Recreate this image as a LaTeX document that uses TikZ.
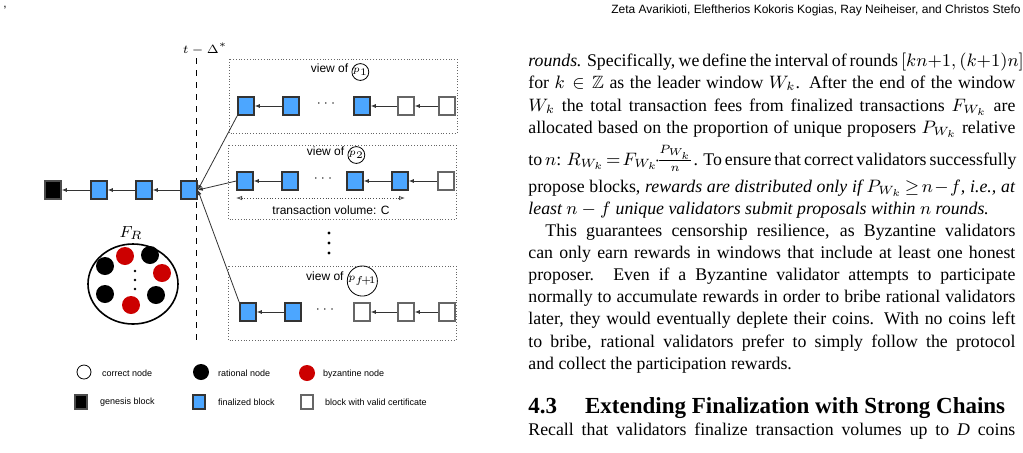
\documentclass[tikz,border=0pt]{standalone}
\usepackage{fontspec}
\setmainfont{Liberation Serif}
\newfontfamily\helv{Liberation Sans}
\usepackage{amssymb}
\usetikzlibrary{arrows.meta,positioning}
\newcommand{\pcirc}[1]{\tikz[baseline=(c.base)]\node[circle,draw,inner sep=0pt,font=\fontsize{5.5}{6}\selectfont](c){$p_{#1}$};}
\begin{document}
\begin{tikzpicture}[x=0.5pt,y=-0.5pt,
    blk/.style={rectangle, draw=black!70, minimum width=8pt, minimum height=9pt, inner sep=0pt, thick},
    fin/.style={blk, fill=blue!50!cyan!70!white, draw=black!80},
    gen/.style={blk, fill=black},
    cert/.style={blk, fill=white, draw=black!60},
    link/.style={-{Latex[length=2.5pt,width=2pt]}, black!80},
    view/.style={draw=black!60, densely dotted},
    lbl/.style={font=\helv\fontsize{6}{7}\selectfont},
    leg/.style={font=\helv\fontsize{4.5}{5}\selectfont, anchor=west},
    dot/.style={circle, minimum size=9pt, inner sep=0pt},
    pt/.style={circle, fill, minimum size=1.6pt, inner sep=0pt},
    line/.style={anchor=base west, inner sep=0pt, font=\fontsize{8.9}{11}\selectfont}
]
\useasboundingbox (0,0) rectangle (1023,452);

% header
\node[anchor=north west, inner sep=0pt, font=\helv\fontsize{6}{7}\selectfont] at (3,6) {,};
\node[anchor=north east, inner sep=0pt, font=\helv\fontsize{6}{7}\selectfont] at (1021,4) {Zeta Avarikioti, Eleftherios Kokoris Kogias, Ray Neiheiser, and Christos Stefo};

% time line
\draw[dashed] (196,58) -- (196,340);
\node[font=\fontsize{6}{7}\selectfont] (tl) at (205,49) {$t-\Delta^{*}$};

% main chain
\node[gen] (g) at (53,190) {};
\node[fin] (m1) at (99,190) {};
\node[fin] (m2) at (144,190) {};
\node[fin] (m3) at (189,190) {};
\draw[link] (m1) -- (g);
\draw[link] (m2) -- (m1);
\draw[link] (m3) -- (m2);

% view of p1
\draw[view] (229,59) rectangle (457,133);
\node[lbl] at (340,72) {view of \pcirc{1}};
\node[fin] (a1) at (246,106) {};
\node[fin] (a2) at (291,106) {};
\node[lbl] at (326,104) {$\cdots$};
\node[fin] (a3) at (362,106) {};
\node[cert] (a4) at (406,106) {};
\node[cert] (a5) at (447,106) {};
\draw[link] (a2) -- (a1);
\draw[link] (a4) -- (a3);
\draw[link] (a5) -- (a4);

% view of p2
\draw[view] (228,145) rectangle (456,219);
\node[lbl] at (336,155) {view of \pcirc{2}};
\node[fin] (b1) at (245,181) {};
\node[fin] (b2) at (290,181) {};
\node[lbl] at (323,179) {$\cdots$};
\node[fin] (b3) at (355,181) {};
\node[fin] (b4) at (400,181) {};
\node[cert] (b5) at (446,181) {};
\draw[link] (b2) -- (b1);
\draw[link] (b4) -- (b3);
\draw[link] (b5) -- (b4);
\coordinate (vl) at (236,198);
\coordinate (vr) at (405,198);
\draw[densely dotted, black!70, {Latex[open,length=3pt]}-{Latex[open,length=3pt]}] (vl) -- (vr);
\node[lbl] at (331,210) {transaction volume: C};

\foreach \y in {233,243,253} \node[pt] at (329,\y) {};

% view of p_{f+1}
\draw[view] (228,266) rectangle (456,340);
\node[lbl] at (342,281) {view of \pcirc{f\!+\!1}};
\node[fin] (c1) at (248,312) {};
\node[fin] (c2) at (293,312) {};
\node[lbl] at (325,310) {$\cdots$};
\node[cert] (c3) at (362,312) {};
\node[cert] (c4) at (406,312) {};
\node[cert] (c5) at (447,312) {};
\draw[link] (c2) -- (c1);
\draw[link] (c4) -- (c3);
\draw[link] (c5) -- (c4);

% forks to the last finalized block
\draw[link] (a1.south west) -- (m3.east);
\draw[link] (b1.west) -- (m3.east);
\draw[link] (c1.north west) -- (m3.east);

% validator set
\node[font=\fontsize{8}{8}\selectfont] (fr) at (131,233) {$F_R$};
\draw[thick] (133,284) ellipse (45 and 40);
\node[dot, fill=red!80!black] (r1) at (125,256) {};
\node[dot, fill=black] (k1) at (150,255) {};
\node[dot, fill=black] (k2) at (105,266) {};
\node[dot, fill=red!80!black] (r2) at (162,273) {};
\node[dot, fill=black] (k3) at (105,294) {};
\node[dot, fill=black] (k4) at (156,295) {};
\node[dot, fill=red!80!black] (r3) at (131,305) {};
\foreach \y in {271,280,289} \node[pt, minimum size=1.3pt] at (135,\y) {};

% legend
\node[dot, draw, minimum size=7pt] (lc) at (84,372) {};
\node[leg] at (95,373) {correct node};
\node[dot, fill=black, minimum size=8pt] (lr) at (201,372) {};
\node[leg] at (211,373) {rational node};
\node[dot, fill=red!80!black, minimum size=8pt] (lb) at (307,373) {};
\node[leg] at (316,374) {byzantine node};
\node[gen, minimum width=6pt, minimum height=7pt] (lg) at (81,402) {};
\node[leg] at (93,402) {genesis block};
\node[fin, minimum width=6pt, minimum height=7pt] (lf) at (199,402) {};
\node[leg] at (211,402) {finalized block};
\node[cert, minimum width=6pt, minimum height=7pt] (lv) at (307,402) {};
\node[leg] at (318,402) {block with valid certificate};

% body text
\def\w{\makebox[243.5pt][s]}
\node[line] at (528,66) {\w{\textit{rounds.} Specifically, we define the interval of rounds $[kn{+}1,(k{+}1)n]$}};
\node[line] at (528,88) {\w{for $k\in\mathbb{Z}$ as the leader window $W_k$. After the end of the window}};
\node[line] at (528,111) {\w{$W_k$ the total transaction fees from finalized transactions $F_{W_k}$ are}};
\node[line] at (528,133) {\w{allocated based on the proportion of unique proposers $P_{W_k}$ relative}};
\node[line] at (528,165) {\w{to $n$: $R_{W_k}\!=\!F_{W_k}\!\cdot\!\frac{P_{W_k}}{n}$. To ensure that correct validators successfully}};
\node[line] at (528,192) {\w{propose blocks, \textit{rewards are distributed only if $P_{W_k}\!\geq\! n\!-\!f$, i.e., at}}};
\node[line] at (528,214) {\textit{least $n-f$ unique validators submit proposals within $n$ rounds.}};
\node[line] at (545,236) {\makebox[235pt][s]{This guarantees censorship resilience, as Byzantine validators}};
\node[line] at (528,258) {\w{can only earn rewards in windows that include at least one honest}};
\node[line] at (528,280) {\w{proposer. Even if a Byzantine validator attempts to participate}};
\node[line] at (528,302) {\w{normally to accumulate rewards in order to bribe rational validators}};
\node[line] at (528,324) {\w{later, they would eventually deplete their coins. With no coins left}};
\node[line] at (528,347) {\w{to bribe, rational validators prefer to simply follow the protocol}};
\node[line] at (528,369) {and collect the participation rewards.};
\node[line, font=\bfseries\fontsize{11.5}{13}\selectfont] at (528,413) {4.3\hspace{14pt}Extending Finalization with Strong Chains};
\node[line] at (528,435) {\w{Recall that validators finalize transaction volumes up to \textit{D} coins}};
\end{tikzpicture}
\end{document}
